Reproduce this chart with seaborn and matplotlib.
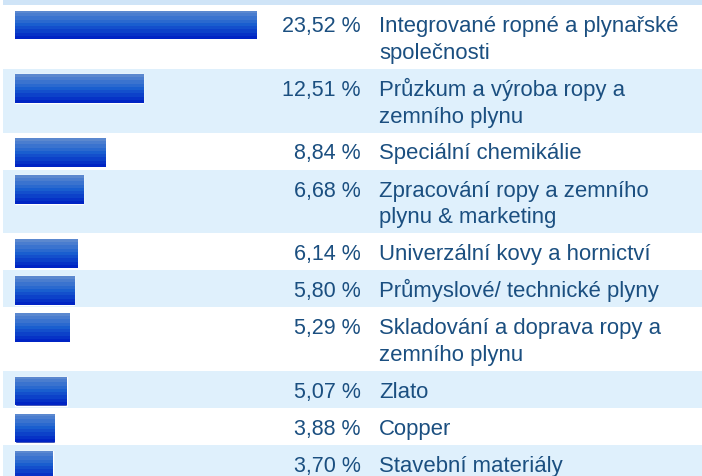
import numpy as np
import pandas as pd
import matplotlib
matplotlib.use('Agg')
import matplotlib.pyplot as plt
import seaborn as sns
from matplotlib.colors import LinearSegmentedColormap

# data
sectors = [
    'Integrované ropné a plynařské\nspolečnosti',
    'Průzkum a výroba ropy a\nzemního plynu',
    'Speciální chemikálie',
    'Zpracování ropy a zemního\nplynu & marketing',
    'Univerzální kovy a hornictví',
    'Průmyslové/ technické plyny',
    'Skladování a doprava ropy a\nzemního plynu',
    'Zlato',
    'Copper',
    'Stavební materiály',
]
weights = [23.52, 12.51, 8.84, 6.68, 6.14, 5.80, 5.29, 5.07, 3.88, 3.70]
pct_labels = ['23,52 %', '12,51 %', '8,84 %', '6,68 %', '6,14 %',
              '5,80 %', '5,29 %', '5,07 %', '3,88 %', '3,70 %']

sns.set_theme(style='white')
plt.rcParams['font.family'] = ['Liberation Sans', 'DejaVu Sans']

W, H = 702, 476
fig = plt.figure(figsize=(W / 100, H / 100), dpi=100)
fig.patch.set_facecolor('white')

txt_color = '#1b4f80'
row_colors = ['white', '#dff0fc']
grad = LinearSegmentedColormap.from_list('g', ['#5b88cf', '#1a5fd0', '#0024c4'])

# pixel helpers
px_per_pct = 10.25
left_px, bar0_px = 3, 15
single_h, double_h = 37.0, 63.75
bar_h, bar_off = 29.0, 5.5

# thin strip on top
strip = fig.add_axes([left_px / W, 1 - 5 / H, 1 - left_px / W, 5 / H])
strip.set_axis_off()
strip.add_patch(plt.Rectangle((0, 0), 1, 1, transform=strip.transAxes, color='#cfe4f7'))

top = 5.0
for i, (name, val, pl) in enumerate(zip(sectors, weights, pct_labels)):
    lines = name.split('\n')
    h = double_h if len(lines) > 1 else single_h
    ax = fig.add_axes([left_px / W, 1 - (top + h) / H, 1 - left_px / W, h / H])
    df = pd.DataFrame({'sektor': [name], 'vaha': [val]})
    sns.barplot(data=df, x='vaha', y='sektor', orient='h', width=1.0,
                color='#0024c4', ax=ax)
    ax.set_xlim(-(bar0_px - left_px) / px_per_pct, (W - bar0_px) / px_per_pct)
    y_top = -0.5 - bar_off / bar_h
    ax.set_ylim(y_top + h / bar_h, y_top)
    # gradient fill inside each bar
    for p in ax.patches:
        x0, y0 = p.get_x(), p.get_y()
        x1, y1 = x0 + p.get_width(), y0 + p.get_height()
        g = np.linspace(0, 1, 9).reshape(-1, 1)
        im = ax.imshow(g, cmap=grad, aspect='auto', extent=[x0, x1, y1, y0],
                       interpolation='nearest', zorder=3)
        im.set_clip_path(p)
    ax.set_axis_off()
    ax.add_patch(plt.Rectangle((0, 0), 1, 1, transform=ax.transAxes,
                               color=row_colors[i % 2], zorder=0))

    base = top + 27
    fig.text(361 / W, 1 - base / H, pl, ha='right', va='baseline',
             fontsize=15.5, color=txt_color)
    for k, ln in enumerate(lines):
        fig.text(379 / W, 1 - (base + 27 * k) / H, ln, ha='left', va='baseline',
                 fontsize=15.9, color=txt_color)
    top += h

fig.savefig('out.png', dpi=100)
